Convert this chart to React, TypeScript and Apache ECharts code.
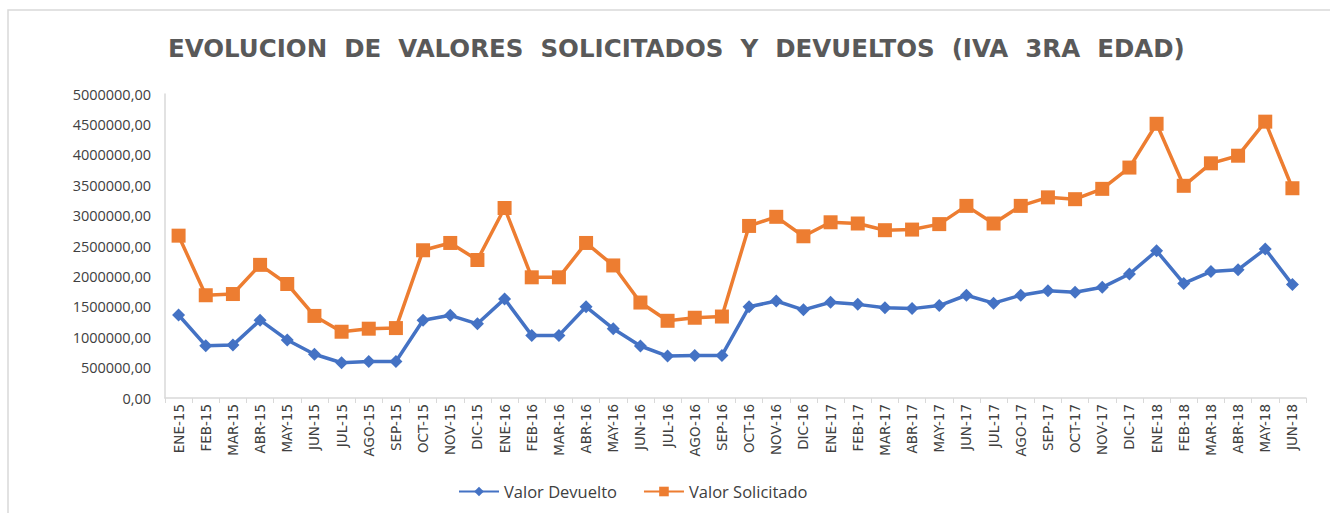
import React, { useEffect, useRef } from "react";
import * as echarts from "echarts";

const categories = [
  "ENE-15", "FEB-15", "MAR-15", "ABR-15", "MAY-15", "JUN-15", "JUL-15", "AGO-15", "SEP-15", "OCT-15", "NOV-15", "DIC-15",
  "ENE-16", "FEB-16", "MAR-16", "ABR-16", "MAY-16", "JUN-16", "JUL-16", "AGO-16", "SEP-16", "OCT-16", "NOV-16", "DIC-16",
  "ENE-17", "FEB-17", "MAR-17", "ABR-17", "MAY-17", "JUN-17", "JUL-17", "AGO-17", "SEP-17", "OCT-17", "NOV-17", "DIC-17",
  "ENE-18", "FEB-18", "MAR-18", "ABR-18", "MAY-18", "JUN-18",
];

const valorDevuelto = [
  1365000, 860000, 870000, 1280000, 955000, 720000, 580000, 600000, 600000, 1280000, 1360000, 1220000,
  1630000, 1030000, 1030000, 1500000, 1140000, 855000, 690000, 700000, 700000, 1500000, 1595000, 1450000,
  1575000, 1540000, 1485000, 1470000, 1520000, 1690000, 1560000, 1690000, 1765000, 1740000, 1820000, 2040000,
  2420000, 1885000, 2080000, 2110000, 2450000, 1865000,
];

const valorSolicitado = [
  2670000, 1690000, 1710000, 2190000, 1875000, 1350000, 1090000, 1140000, 1150000, 2430000, 2550000, 2270000,
  3125000, 1985000, 1985000, 2550000, 2180000, 1570000, 1270000, 1320000, 1340000, 2830000, 2980000, 2660000,
  2890000, 2870000, 2760000, 2770000, 2860000, 3160000, 2870000, 3160000, 3300000, 3270000, 3440000, 3790000,
  4510000, 3490000, 3860000, 3985000, 4545000, 3450000,
];

const titleText = "EVOLUCION  DE  VALORES  SOLICITADOS  Y  DEVUELTOS  (IVA  3RA  EDAD)";

export default function App() {
  const ref = useRef<HTMLDivElement>(null);
  useEffect(() => {
    if (!ref.current) return;
    const chart = echarts.init(ref.current, undefined, { renderer: "svg" });
    chart.setOption({
      animation: false,
      backgroundColor: "#ffffff",
      title: {
        text: titleText,
        left: 163,
        top: 31,
        textStyle: {
          fontFamily: "DejaVu Sans",
          fontWeight: "bold",
          fontSize: 24.5,
          color: "#595959",
        },
      },
      graphic: [
        {
          type: "rect",
          shape: { x: 8, y: 10, width: 1340, height: 520 },
          style: { fill: "none", stroke: "#D9D9D9", lineWidth: 1.5 },
          silent: true,
        },
      ],
      legend: {
        bottom: 8,
        left: 453,
        itemWidth: 40,
        itemHeight: 12,
        itemGap: 26,
        textStyle: { fontFamily: "Open Sans", fontSize: 16.5, color: "#404040" },
        data: ["Valor Devuelto", "Valor Solicitado"],
      },
      grid: { left: 165, right: 24, top: 94, bottom: 115, containLabel: false },
      xAxis: {
        type: "category",
        data: categories,
        boundaryGap: true,
        axisLine: { show: true, lineStyle: { color: "#D9D9D9", width: 1.5 } },
        axisTick: { show: true, alignWithLabel: false, length: 5, lineStyle: { color: "#D9D9D9" } },
        axisLabel: {
          rotate: 90,
          interval: 0,
          margin: 6,
          fontFamily: "DejaVu Sans",
          fontSize: 13.5,
          color: "#404040",
        },
        splitLine: { show: false },
      },
      yAxis: {
        type: "value",
        min: 0,
        max: 5000000,
        interval: 500000,
        axisLine: { show: true, lineStyle: { color: "#D9D9D9", width: 1.5 } },
        axisTick: { show: false },
        splitLine: { show: false },
        axisLabel: {
          margin: 14,
          fontFamily: "Open Sans",
          fontSize: 14.5,
          color: "#404040",
          formatter: (v: number) => `${v},00`,
        },
      },
      series: [
        {
          name: "Valor Devuelto",
          type: "line",
          data: valorDevuelto,
          symbol: "diamond",
          symbolSize: 13,
          lineStyle: { color: "#4472C4", width: 3.5 },
          itemStyle: { color: "#4472C4" },
        },
        {
          name: "Valor Solicitado",
          type: "line",
          data: valorSolicitado,
          symbol: "rect",
          symbolSize: 14,
          lineStyle: { color: "#ED7D31", width: 3.5 },
          itemStyle: { color: "#ED7D31" },
        },
      ],
    });
    return () => chart.dispose();
  }, []);
  return <div ref={ref} style={{ width: 1330, height: 513, position: "absolute", left: 0, top: 0 }} />;
}
